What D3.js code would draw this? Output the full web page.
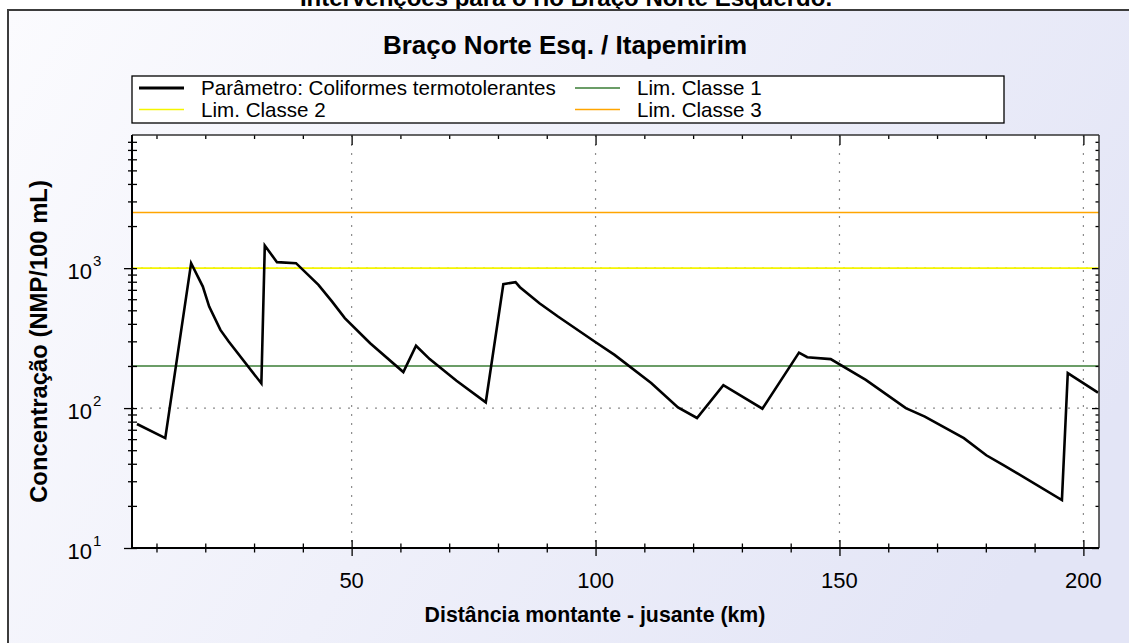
<!DOCTYPE html>
<html><head><meta charset="utf-8">
<script src="https://cdn.jsdelivr.net/npm/d3@7"></script>
<style>
body{margin:0;background:#fff;}
svg{display:block;font-family:"Liberation Sans",Arial,Helvetica,sans-serif;}
</style>
</head><body>
<svg id="c" width="1129" height="643"></svg>
<script>
// ---------------- data ----------------
const distKm = [6.0, 11.8, 17.1, 19.5, 20.8, 23.1, 24.8, 31.5, 32.2, 34.7, 38.6, 43.2, 46.0, 48.6,
  53.8, 60.6, 63.2, 66.0, 71.5, 77.5, 81.1, 83.6, 84.5, 88.5, 92.3, 99.8, 103.9, 111.4, 116.9,
  120.8, 126.2, 134.2, 141.7, 143.4, 148.2, 155.4, 163.6, 167.5, 175.5, 180.1, 183.7, 195.6, 196.8, 203.0];
const concentration = [77, 61, 1086, 739, 532, 362, 299, 150, 1450, 1104, 1086, 760, 577, 440,
  291, 181, 279, 224, 157, 110, 769, 795, 731, 562, 451, 299, 240, 151, 101,
  85, 146, 99, 249, 231, 224, 159, 100, 87, 61, 46, 39, 22, 178, 129];
const limitNames = ["Lim. Classe 1", "Lim. Classe 2", "Lim. Classe 3"];
const limitValues = [200, 1000, 2500];
const seriesName = "Parâmetro: Coliformes termotolerantes";
const xTickValues = [50, 100, 150, 200];
const xMinorTicks = [10, 20, 30, 40, 60, 70, 80, 90, 110, 120, 130, 140, 160, 170, 180, 190];
const yDecades = [10, 100, 1000];
const yExponents = ["1", "2", "3"];
const chartTitle = "Braço Norte Esq. / Itapemirim";
const topTitle = "Intervenções para o rio Braço Norte Esquerdo.";
const xLabel = "Distância montante - jusante (km)";
const yLabel = "Concentração (NMP/100 mL)";

// ---------------- styles ----------------
const limitColors = ["#3a7d34", "#f5f500", "#ffa500"];
const L = 132, R = 1099, T = 135, B = 548;

const svg = d3.select("#c");
const defs = svg.append("defs");
const grad = defs.append("linearGradient").attr("id", "bg")
  .attr("x1", 0).attr("y1", 0).attr("x2", 1).attr("y2", 0.35);
grad.append("stop").attr("offset", 0).attr("stop-color", "#fbfbfe");
grad.append("stop").attr("offset", 1).attr("stop-color", "#e3e5f6");

// cut-off top title (drawn first, frame covers descenders)
svg.append("text").attr("x", 566).attr("y", 6).attr("text-anchor", "middle")
  .attr("font-weight", "bold").attr("font-size", 24).attr("fill", "#000").text(topTitle);

svg.append("rect").attr("x", 8).attr("y", 10).attr("width", 1200).attr("height", 700)
  .attr("fill", "url(#bg)").attr("stroke", "#3c3c3c").attr("stroke-width", 2);

svg.append("text").attr("x", 565).attr("y", 54).attr("text-anchor", "middle")
  .attr("font-weight", "bold").attr("font-size", 26).text(chartTitle);

// scales
const x = d3.scaleLinear().domain([4.98, 203.2]).range([L, R]);
const y = d3.scaleLog().domain([10, 8950]).range([B, T]);

// plot background
svg.append("rect").attr("x", L).attr("y", T).attr("width", R - L).attr("height", B - T).attr("fill", "#fff");

// grid
const grid = svg.append("g").attr("stroke", "#8c8c8c").attr("stroke-width", 1.2).attr("stroke-dasharray", "2,7");
grid.selectAll("line.v").data(xTickValues).join("line")
  .attr("x1", d => x(d)).attr("x2", d => x(d)).attr("y1", T).attr("y2", B);
grid.selectAll("line.h").data([100, 1000]).join("line")
  .attr("x1", L).attr("x2", R).attr("y1", d => y(d)).attr("y2", d => y(d));

// limit lines
svg.append("g").selectAll("line").data(limitValues).join("line")
  .attr("x1", L).attr("x2", R).attr("y1", d => y(d)).attr("y2", d => y(d))
  .attr("stroke", (d, i) => limitColors[i]).attr("stroke-width", 1.6);

// data line
const pts = distKm.map((d, i) => [d, concentration[i]]);
svg.append("path").datum(pts)
  .attr("d", d3.line().x(d => x(d[0])).y(d => y(d[1])))
  .attr("fill", "none").attr("stroke", "#000").attr("stroke-width", 2.6).attr("stroke-linejoin", "miter");

// minor y values
const yMinor = [];
[10, 100, 1000].forEach(dec => { for (let k = 2; k <= 9; k++) { const v = k * dec; if (v <= 8950) yMinor.push(v); } });

function styleAxis(g) { g.select(".domain").remove(); g.selectAll("text").remove(); g.selectAll("line").attr("stroke", "#000").attr("stroke-width", 1.3); }

// bottom axis ticks (both sides)
svg.append("g").attr("transform", `translate(0,${B})`).call(d3.axisBottom(x).tickValues(xTickValues).tickSize(8)).call(styleAxis);
svg.append("g").attr("transform", `translate(0,${B})`).call(d3.axisBottom(x).tickValues(xTickValues).tickSize(-8)).call(styleAxis);
svg.append("g").attr("transform", `translate(0,${B})`).call(d3.axisBottom(x).tickValues(xMinorTicks).tickSize(4.5)).call(styleAxis);
svg.append("g").attr("transform", `translate(0,${B})`).call(d3.axisBottom(x).tickValues(xMinorTicks).tickSize(-4.5)).call(styleAxis);
// top axis ticks (inside)
svg.append("g").attr("transform", `translate(0,${T})`).call(d3.axisTop(x).tickValues(xTickValues).tickSize(-10)).call(styleAxis);
svg.append("g").attr("transform", `translate(0,${T})`).call(d3.axisTop(x).tickValues(xMinorTicks).tickSize(-4)).call(styleAxis);
// left axis
svg.append("g").attr("transform", `translate(${L},0)`).call(d3.axisLeft(y).tickValues(yDecades).tickSize(8)).call(styleAxis);
svg.append("g").attr("transform", `translate(${L},0)`).call(d3.axisLeft(y).tickValues(yDecades).tickSize(-5)).call(styleAxis);
svg.append("g").attr("transform", `translate(${L},0)`).call(d3.axisLeft(y).tickValues(yMinor).tickSize(4)).call(styleAxis);
svg.append("g").attr("transform", `translate(${L},0)`).call(d3.axisLeft(y).tickValues(yMinor).tickSize(-5)).call(styleAxis);
// right axis (inside)
svg.append("g").attr("transform", `translate(${R},0)`).call(d3.axisRight(y).tickValues(yDecades).tickSize(-7)).call(styleAxis);
svg.append("g").attr("transform", `translate(${R},0)`).call(d3.axisRight(y).tickValues(yMinor).tickSize(-3.5)).call(styleAxis);

// box
svg.append("line").attr("x1", L).attr("x2", R).attr("y1", T).attr("y2", T).attr("stroke", "#333").attr("stroke-width", 1.5);
svg.append("line").attr("x1", R).attr("x2", R).attr("y1", T).attr("y2", B).attr("stroke", "#333").attr("stroke-width", 1.5);
svg.append("line").attr("x1", L).attr("x2", R).attr("y1", B).attr("y2", B).attr("stroke", "#000").attr("stroke-width", 2);
svg.append("line").attr("x1", L).attr("x2", L).attr("y1", T).attr("y2", B).attr("stroke", "#000").attr("stroke-width", 2);

// tick labels
svg.append("g").selectAll("text").data(xTickValues).join("text")
  .attr("x", d => x(d)).attr("y", 588).attr("text-anchor", "middle").attr("font-size", 22).text(d => d);
const yl = svg.append("g").selectAll("g").data(yDecades).join("g");
yl.append("text").attr("x", 92).attr("y", d => y(d) + 11).attr("text-anchor", "end").attr("font-size", 22).text("10");
yl.append("text").attr("x", 93).attr("y", d => y(d) - 2).attr("font-size", 15).text((d, i) => yExponents[i]);

// axis titles
svg.append("text").attr("x", 595).attr("y", 622).attr("text-anchor", "middle")
  .attr("font-weight", "bold").attr("font-size", 21.3).text(xLabel);
svg.append("text").attr("transform", `translate(47,${(T + B) / 2}) rotate(-90)`).attr("text-anchor", "middle")
  .attr("font-weight", "bold").attr("font-size", 23.8).text(yLabel);

// legend
const lg = svg.append("g");
lg.append("rect").attr("x", 132).attr("y", 76).attr("width", 872).attr("height", 47)
  .attr("fill", "#fff").attr("stroke", "#000").attr("stroke-width", 1.3);
const legendItems = [
  { name: seriesName, color: "#000", w: 3, col: 0, row: 0 },
  { name: limitNames[0], color: limitColors[0], w: 1.6, col: 1, row: 0 },
  { name: limitNames[1], color: limitColors[1], w: 1.6, col: 0, row: 1 },
  { name: limitNames[2], color: limitColors[2], w: 1.6, col: 1, row: 1 }
];
const colX = [139, 575], rowY = [88, 109.5];
const li = lg.selectAll("g").data(legendItems).join("g");
li.append("line").attr("x1", d => colX[d.col]).attr("x2", d => colX[d.col] + 45)
  .attr("y1", d => rowY[d.row]).attr("y2", d => rowY[d.row])
  .attr("stroke", d => d.color).attr("stroke-width", d => d.w);
li.append("text").attr("x", d => colX[d.col] + 62).attr("y", d => rowY[d.row] + 7)
  .attr("font-size", 20.6).text(d => d.name);
</script>
</body></html>
